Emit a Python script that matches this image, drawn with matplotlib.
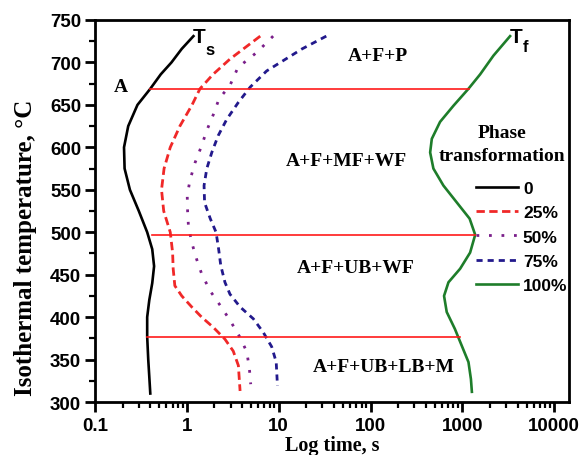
import matplotlib
matplotlib.use("Agg")
import matplotlib.pyplot as plt
from matplotlib.ticker import MultipleLocator, LogLocator, NullFormatter, FixedLocator, FixedFormatter

# temperatures (C) and times (s), one pair of lists per curve
temp_0 = [731, 716, 700, 686, 669, 650, 625, 600, 575, 550, 525, 500, 480, 460, 440, 420, 400, 377, 350, 330, 310]
time_0 = [1.18, 0.88, 0.68, 0.52, 0.40, 0.29, 0.23, 0.207, 0.21, 0.24, 0.30, 0.37, 0.42, 0.44, 0.42, 0.39, 0.37, 0.37, 0.38, 0.39, 0.40]

temp_25 = [731, 704, 686, 669, 650, 625, 600, 575, 550, 525, 500, 476, 457, 437, 425, 412, 400, 388, 374, 360, 343, 313]
time_25 = [6.3, 2.95, 1.93, 1.39, 1.14, 0.84, 0.66, 0.565, 0.53, 0.56, 0.66, 0.70, 0.71, 0.74, 0.88, 1.13, 1.45, 1.94, 2.6, 3.2, 3.64, 3.8]

temp_50 = [731, 712, 694, 673, 657, 639, 620, 602, 582, 561, 543, 524, 508, 488, 468, 451, 431, 414, 396, 376, 359, 339, 321]
time_50 = [8.7, 5.8, 3.6, 2.95, 2.24, 1.95, 1.65, 1.45, 1.23, 1.08, 1.01, 1.02, 1.04, 1.13, 1.28, 1.45, 1.79, 2.3, 2.96, 3.8, 4.5, 4.8, 4.96]

temp_75 = [731, 716, 690, 671, 653, 633, 614, 594, 575, 555, 535, 516, 500, 480, 461, 441, 427, 412, 398, 382, 365, 347, 319]
time_75 = [33, 18, 7.4, 4.9, 3.64, 2.72, 2.2, 1.87, 1.65, 1.54, 1.56, 1.8, 2.08, 2.22, 2.34, 2.6, 2.95, 3.8, 5.3, 6.8, 8.4, 9.4, 9.7]

temp_100 = [731, 708, 686, 669, 649, 630, 610, 594, 575, 555, 535, 516, 497, 476, 457, 441, 425, 406, 386, 366, 347, 327, 312]
time_100 = [3310, 2180, 1563, 1166, 800, 572, 465, 446, 484, 622, 871, 1200, 1380, 1215, 946, 706, 632, 676, 830, 988, 1166, 1240, 1270]

# phase boundary lines: temperature, start time, end time
bound_temp = [669, 497, 377]
bound_start = [0.40, 0.42, 0.37]
bound_end = [1185, 1380, 946]

region_labels = ['A+F+P', 'A+F+MF+WF', 'A+F+UB+WF', 'A+F+UB+LB+M']
region_x = [120, 54, 69, 141]
region_y = [708, 584, 458, 342]

legend_labels = ['0', '25%', '50%', '75%', '100%']

fig = plt.figure(figsize=(5.87, 4.56), dpi=100)
ax = fig.add_axes([95 / 587, 1 - 403 / 456, 474 / 587, 382 / 456])

ax.plot(time_0, temp_0, color='black', lw=1.9, label=legend_labels[0])
ax.plot(time_25, temp_25, color='#f02828', lw=2.0, dashes=(3, 1.6), label=legend_labels[1])
ax.plot(time_50, temp_50, color='#7a1e8a', lw=2.0, dashes=(1, 3.5), label=legend_labels[2])
ax.plot(time_75, temp_75, color='#22198c', lw=2.0, dashes=(2.2, 1.8), label=legend_labels[3])
ax.plot(time_100, temp_100, color='#1e7d2a', lw=1.9, label=legend_labels[4])

for t, x0, x1 in zip(bound_temp, bound_start, bound_end):
    ax.plot([x0, x1], [t, t], color='#ff1a1a', lw=1.2)

serif_bold = dict(family='Liberation Serif', weight='bold', fontsize=14)
for lab, x, y in zip(region_labels, region_x, region_y):
    ax.text(x, y, lab, ha='center', va='center', **serif_bold)
ax.text(0.19, 672, 'A', ha='center', va='center', **serif_bold)

# curve names T_s and T_f
sans_bold = dict(family='Liberation Sans', weight='bold')
ax.text(1.17, 724, 'T', fontsize=15, ha='left', va='baseline', **sans_bold)
ax.text(1.58, 710, 's', fontsize=12, ha='left', va='baseline', **sans_bold)
ax.text(3310, 724, 'T', fontsize=15, ha='left', va='baseline', **sans_bold)
ax.text(4500, 714, 'f', fontsize=12, ha='left', va='baseline', **sans_bold)

ax.set_xscale('log')
ax.set_xlim(0.1, 14500)
ax.set_ylim(300, 750)
ax.yaxis.set_major_locator(MultipleLocator(50))
ax.yaxis.set_minor_locator(MultipleLocator(25))
ax.xaxis.set_major_locator(FixedLocator([0.1, 1, 10, 100, 1000, 10000]))
ax.xaxis.set_major_formatter(FixedFormatter(['0.1', '1', '10', '100', '1000', '10000']))
ax.xaxis.set_minor_locator(LogLocator(base=10, subs=range(2, 10)))
ax.xaxis.set_minor_formatter(NullFormatter())

for s in ax.spines.values():
    s.set_linewidth(2.0)
ax.tick_params(which='major', direction='out', length=7, width=2.0, pad=3)
ax.tick_params(which='minor', direction='out', length=4, width=1.6)
ax.tick_params(axis='x', which='major', pad=4)
for lab in ax.get_xticklabels() + ax.get_yticklabels():
    lab.set_family('Liberation Sans')
    lab.set_weight('bold')
    lab.set_fontsize(13.5)

# axis titles placed where the picture has them
fig.text(332 / 587, 1 - 451 / 456, 'Log time, s', ha='center', va='baseline',
         family='Liberation Serif', weight='bold', fontsize=14.5)
fig.text(26 / 587, 1 - 248 / 456, 'Isothermal temperature, °C', ha='center', va='center', rotation=90,
         family='Liberation Serif', weight='bold', fontsize=18)

# legend title drawn as its own text so its spacing can follow the picture
fig.text(502 / 587, 1 - 145 / 456, 'Phase\ntransformation', ha='center', va='center',
         multialignment='center', linespacing=1.4, family='Liberation Serif', weight='bold', fontsize=14)
leg = ax.legend(loc='upper left', bbox_to_anchor=(476 / 587, 1 - 182 / 456), bbox_transform=fig.transFigure,
                frameon=False, borderpad=0, borderaxespad=0, handlelength=2.4, handletextpad=0.3,
                labelspacing=0.52, prop=dict(family='Liberation Sans', weight='bold', size=12.5))

fig.savefig('out.png', dpi=100)
